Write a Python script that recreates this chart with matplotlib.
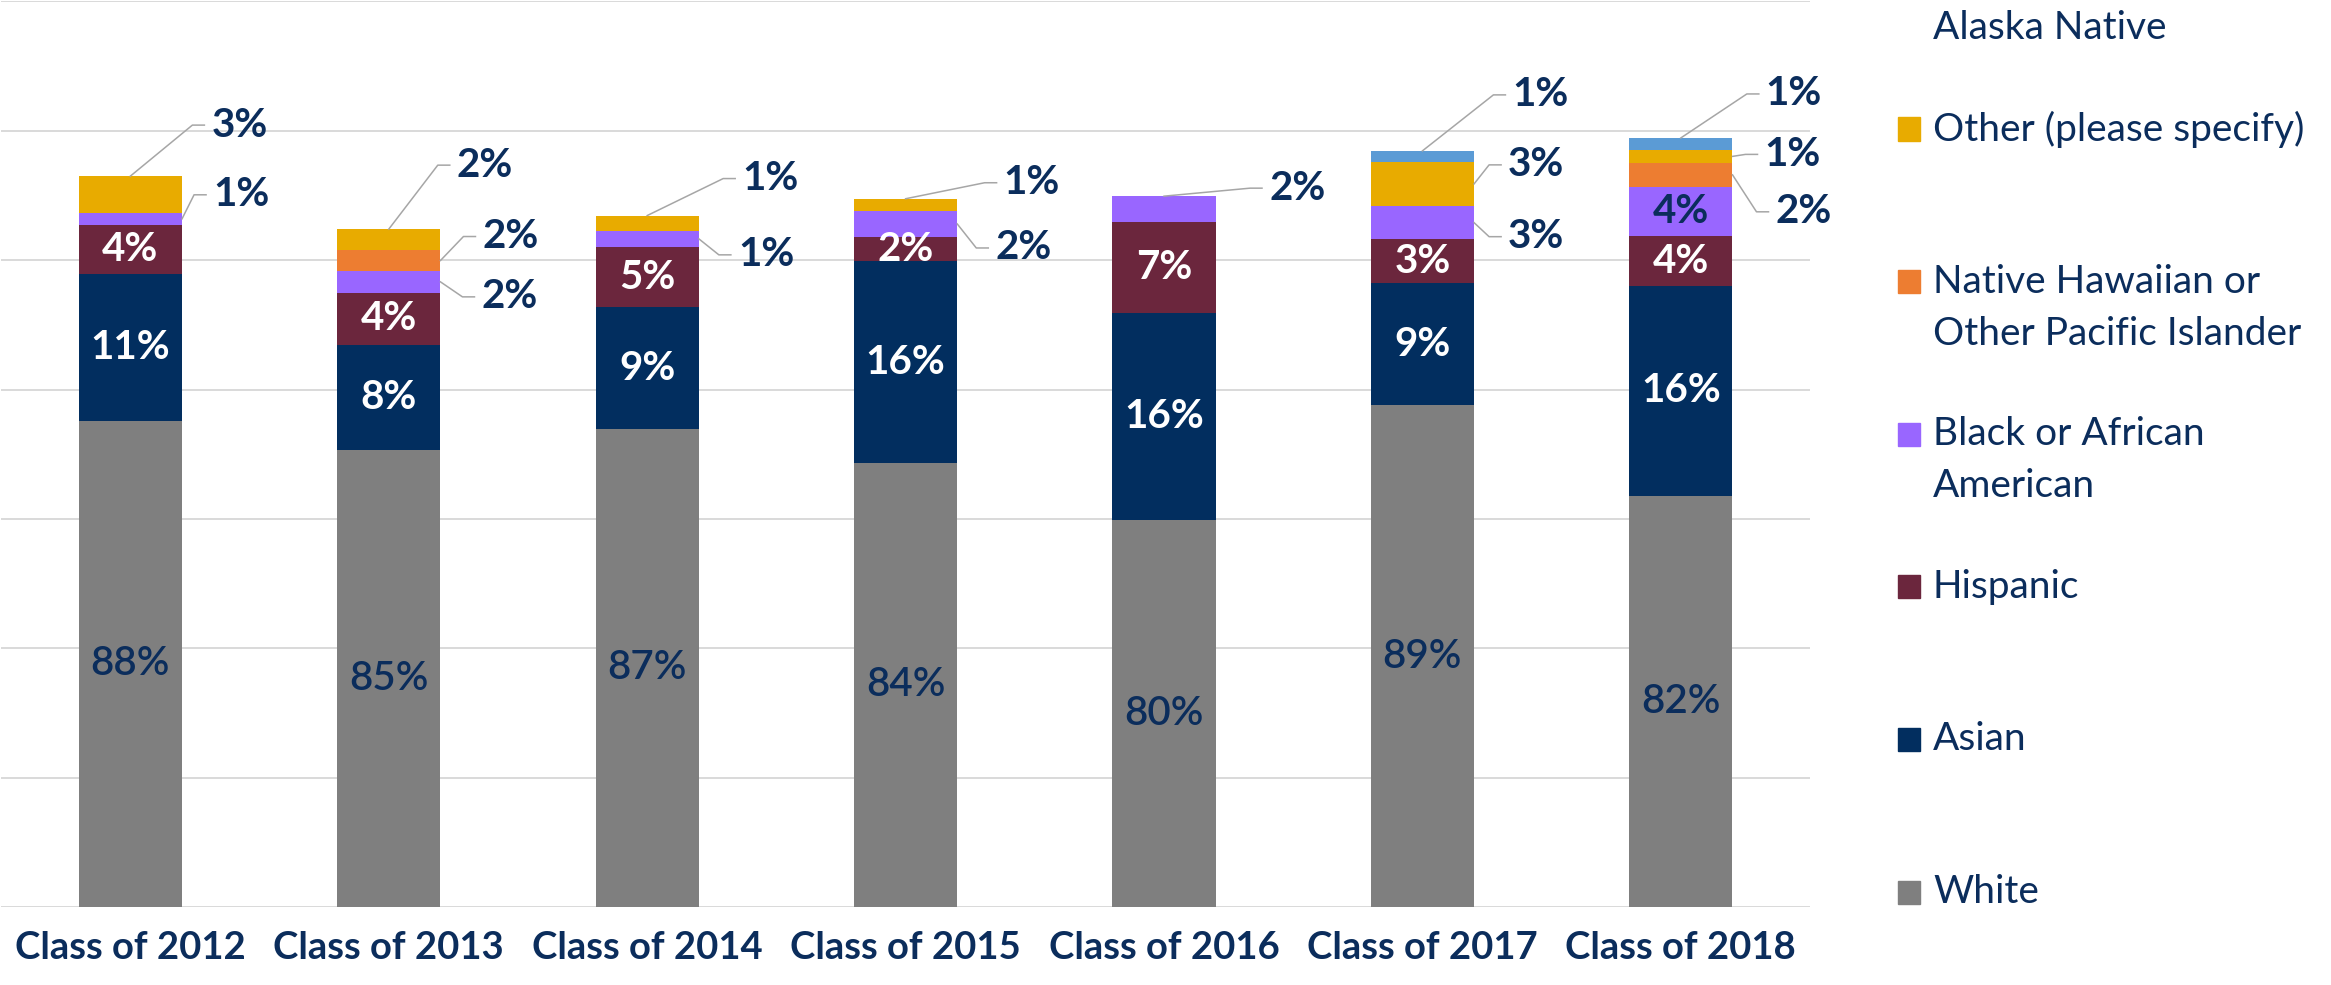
import numpy as np
import matplotlib
matplotlib.use('Agg')
import matplotlib.pyplot as plt
from matplotlib.patches import Rectangle

plt.rcParams['font.family'] = ['Lato', 'DejaVu Sans']

# data (bar heights, gridline = 20 units) and printed labels
years = ['Class of 2012', 'Class of 2013', 'Class of 2014', 'Class of 2015',
         'Class of 2016', 'Class of 2017', 'Class of 2018']
white = [75.2, 70.6, 73.9, 68.7, 59.8, 77.6, 63.6]
asian = [22.7, 16.3, 18.8, 31.1, 32.1, 18.8, 32.4]
hispanic = [7.6, 8.1, 9.4, 3.8, 14.0, 6.8, 7.7]
black = [1.8, 3.3, 2.4, 4.0, 4.0, 5.2, 7.6]
nhpi = [0, 3.3, 0, 0, 0, 0, 3.8]
other = [5.7, 3.2, 2.4, 1.9, 0, 6.8, 1.9]
aian = [0, 0, 0, 0, 0, 1.7, 1.9]

white_lbl = ['88%', '85%', '87%', '84%', '80%', '89%', '82%']
asian_lbl = ['11%', '8%', '9%', '16%', '16%', '9%', '16%']
hispanic_lbl = ['4%', '4%', '5%', '2%', '7%', '3%', '4%']
black_lbl = ['1%', '2%', '1%', '2%', '2%', '3%', '4%']
nhpi_lbl = ['', '2%', '', '', '', '', '2%']
other_lbl = ['3%', '2%', '1%', '1%', '', '3%', '1%']
aian_lbl = ['', '', '', '', '', '1%', '1%']

names = ['White', 'Asian', 'Hispanic', 'Black or African\nAmerican',
         'Native Hawaiian or\nOther Pacific Islander', 'Other (please specify)',
         'American Indian or\nAlaska Native']
colors = ['#7f7f7f', '#022e5f', '#6b263d', '#9966ff', '#ed7d31', '#e8ab00', '#5b9bd5']
series = [white, asian, hispanic, black, nhpi, other, aian]
labels = [white_lbl, asian_lbl, hispanic_lbl, black_lbl, nhpi_lbl, other_lbl, aian_lbl]

navy = '#0b2d5c'
lbl_size = 29

# label style per series: inside (text colour, weight) or None = callout
inside = {0: (navy, 'semibold'), 1: ('white', 'bold'), 2: ('white', 'bold')}
# callouts: (series, year, anchor, dx px, dy px down)
callouts = [(5, 0, 'top', 62, -51), (3, 0, 'right', 12, -24),
            (5, 1, 'top', 49, -64), (4, 1, 'right', 23, -24), (3, 1, 'right', 22, 15),
            (5, 2, 'top', 76, -37), (3, 2, 'right', 20, 16),
            (5, 3, 'top', 79, -16), (3, 3, 'right', 19, 24),
            (3, 4, 'top', 86, -8),
            (6, 5, 'top', 71, -56), (5, 5, 'right', 15, -19), (3, 5, 'right', 15, 14),
            (6, 6, 'top', 66, -44), (5, 6, 'right', 13, -2), (4, 6, 'right', 24, 37)]

fig = plt.figure(figsize=(23.31, 9.85), dpi=100)
ax = fig.add_axes([0.0005, 0.0792, 0.776, 0.9193])

x = np.arange(len(years))
w = 0.4
bottoms = np.zeros(len(years))
tops = []
for s, vals in enumerate(series):
    vals = np.array(vals, dtype=float)
    ax.bar(x, vals, w, bottom=bottoms, color=colors[s], zorder=3)
    tops.append((bottoms.copy(), vals.copy()))
    bottoms = bottoms + vals

ax.set_xlim(-0.5, len(years) - 0.5)
ax.set_ylim(0, 140)
ax.set_yticks(np.arange(0, 141, 20))
ax.yaxis.grid(True, color='#d9d9d9', lw=1.4, zorder=0)
ax.tick_params(axis='y', left=False, labelleft=False)
ax.tick_params(axis='x', length=0, pad=17)
ax.set_xticks(x)
ax.set_xticklabels(years, fontsize=27.5, fontweight='bold', color=navy)
for sp in ax.spines.values():
    sp.set_visible(False)

# inside labels
for s, (col, wt) in inside.items():
    b, v = tops[s]
    for i in range(len(years)):
        if labels[s][i]:
            ax.text(x[i], b[i] + v[i] / 2, labels[s][i], ha='center', va='center',
                    color=col, fontsize=lbl_size, fontweight=wt, zorder=4)
# 2018 black label sits inside the bar
b, v = tops[3]
ax.text(x[6], b[6] + v[6] / 2, black_lbl[6], ha='center', va='center',
        color=navy, fontsize=lbl_size, fontweight='bold', zorder=4)

# callouts with leader lines
fig.canvas.draw()
to_disp = ax.transData.transform
to_data = ax.transData.inverted().transform
for s, i, anc, dx, dy in callouts:
    b, v = tops[s]
    if anc == 'top':
        p = to_disp((x[i], b[i] + v[i]))
    else:
        p = to_disp((x[i] + w / 2, b[i] + v[i] / 2))
    e = p + np.array([dx, -dy])
    h = e + np.array([12, 0])
    pts = to_data(np.array([p, e, h]))
    ax.plot(pts[:, 0], pts[:, 1], color='#a6a6a6', lw=1.1, clip_on=False, zorder=4)
    t = to_data(h + np.array([7, 0]))
    ax.text(t[0], t[1], labels[s][i], ha='left', va='center', color=navy,
            fontsize=lbl_size, fontweight='bold', clip_on=False)

# legend, drawn from the top entry down, clipped by the figure edge
H = 985.0
step = 152.6
for k in range(len(names)):
    yc = 892 - k * step  # marker centre, px from top
    fig.patches.append(Rectangle(((1897.5) / 2331, 1 - (yc + 11.5) / H), 22.5 / 2331, 23 / H,
                                 color=colors[k], transform=fig.transFigure, figure=fig))
    for j, line in enumerate(names[k].split('\n')):
        fig.text(1933 / 2331, 1 - (yc + 52 * j) / H, line, ha='left', va='center',
                 fontsize=28, color=navy)

fig.savefig('out.png', dpi=100)
